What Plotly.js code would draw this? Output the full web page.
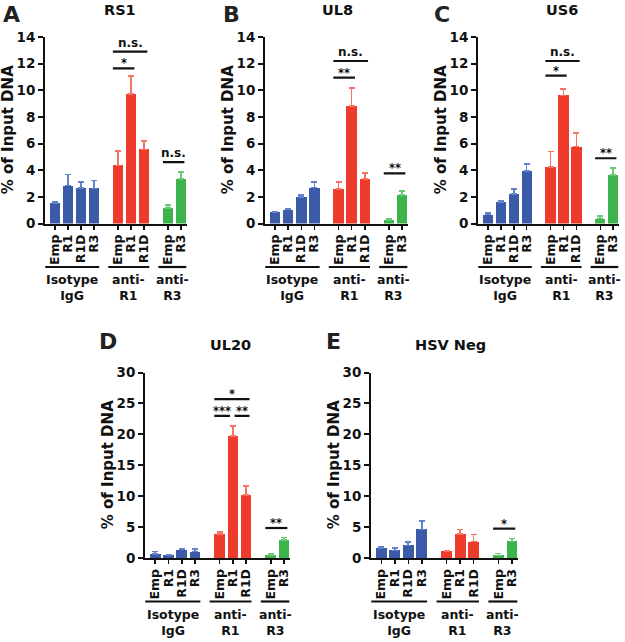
<!DOCTYPE html>
<html><head><meta charset="utf-8">
<script src="https://cdn.plot.ly/plotly-3.0.1.min.js"></script>
<style>html,body{margin:0;padding:0;background:#fff}</style>
</head><body><div id="chart" style="width:625px;height:642px"></div>
<script>
// ---------- data ----------
const panelLetters = ['A','B','C','D','E'];
const panelTitles = ['RS1','UL8','US6','UL20','HSV Neg'];
const groupLabels = ['Isotype<br>IgG','anti-<br>R1','anti-<br>R3'];
const groupConditions = [['Emp','R1','R1D','R3'],['Emp','R1','R1D'],['Emp','R3']];
const yMax = [14,14,14,30,30];
const yStep = [2,2,2,5,5];

// order: Isotype(Emp,R1,R1D,R3), anti-R1(Emp,R1,R1D), anti-R3(Emp,R3)
const valuesA = [1.55, 2.85, 2.68, 2.63, 4.36, 9.70, 5.56, 1.18, 3.36];
const errorsA = [0.08, 0.83, 0.42, 0.60, 1.07, 1.37, 0.63, 0.20, 0.50];
const valuesB = [0.85, 1.05, 2.00, 2.70, 2.60, 8.80, 3.35, 0.25, 2.15];
const errorsB = [0.05, 0.07, 0.15, 0.42, 0.50, 1.35, 0.43, 0.07, 0.27];
const valuesC = [0.67, 1.62, 2.20, 3.92, 4.23, 9.62, 5.78, 0.37, 3.66];
const errorsC = [0.13, 0.12, 0.40, 0.56, 1.17, 0.46, 1.00, 0.21, 0.49];
const valuesD = [0.60, 0.45, 1.35, 1.05, 3.90, 19.76, 10.23, 0.45, 2.90];
const errorsD = [0.45, 0.10, 0.20, 0.45, 0.35, 1.54, 1.37, 0.25, 0.40];
const valuesE = [1.62, 1.24, 2.05, 4.64, 1.08, 3.89, 2.64, 0.43, 2.70];
const errorsE = [0.13, 0.38, 0.54, 1.35, 0.16, 0.70, 1.14, 0.27, 0.43];

// significance: [fromBar, toBar, level, label]
const sigA = [[4,5,11.65,'*'],[4,6,12.9,'n.s.'],[7,8,4.6,'n.s.']];
const sigB = [[4,5,10.95,'**'],[4,6,12.2,'n.s.'],[7,8,3.77,'**']];
const sigC = [[4,5,11.1,'*'],[4,6,12.2,'n.s.'],[7,8,4.9,'**']];
const sigD = [[4,6,25.7,'*'],[4,5,23.0,'***'],[5,6,23.0,'**'],[7,8,4.85,'**']];
const sigE = [[7,8,4.75,'*']];

// ---------- layout / style ----------
const allValues = [valuesA,valuesB,valuesC,valuesD,valuesE];
const allErrors = [errorsA,errorsB,errorsC,errorsD,errorsE];
const allSig = [sigA,sigB,sigC,sigD,sigE];

const W = 625, H = 642;
const boxes = [
  {x0:45, x1:187, y0:37, y1:223.5},
  {x0:265,x1:408, y0:37, y1:223.5},
  {x0:478,x1:619, y0:37, y1:223.5},
  {x0:145,x1:290, y0:372.5, y1:558},
  {x0:371,x1:518, y0:372.5, y1:558}
];
const titlePos = [[120,10],[337,10],[562,10],[230,345],[450,345]];
const letterPos = [[12,14],[231,14],[442,14],[108,342],[333,342]];
const groupStart = [0, 4.85, 8.7];
const xRange = [-0.77, 10.15];
const barColors = ['#3b5ba9','#ee3b2b','#3cb44b'];
const errColors = ['#6283cc','#f47563','#6cc878'];
const FONT = 'DejaVu Sans, Arial, sans-serif';
const bold = (size, color) => ({family: FONT, size: size, color: color || '#111', weight: 700});
const px = x => x / W;
const py = y => 1 - y / H;

const positions = [];
groupConditions.forEach((conds, g) => conds.forEach((c, i) => positions.push(groupStart[g] + i)));
const tickLabels = [].concat(...groupConditions);

const traces = [];
const layout = {
  width: W, height: H, margin: {l:0, r:0, t:0, b:0},
  paper_bgcolor: '#fff', plot_bgcolor: 'rgba(0,0,0,0)',
  showlegend: false, bargap: 0,
  annotations: [], shapes: []
};

for (let p = 0; p < 5; p++) {
  const sfx = p === 0 ? '' : String(p + 1);
  const xa = 'x' + sfx, ya = 'y' + sfx;
  const b = boxes[p];
  let idx = 0;
  groupConditions.forEach((conds, g) => {
    const n = conds.length;
    const xs = positions.slice(idx, idx + n);
    const ys = allValues[p].slice(idx, idx + n);
    const es = allErrors[p].slice(idx, idx + n);
    traces.push({
      type: 'bar', x: xs, y: ys, xaxis: xa, yaxis: ya, width: 0.8,
      marker: {color: barColors[g], line: {width: 0}},
      error_y: {type: 'data', symmetric: false, array: es, arrayminus: es.map(() => 0),
                color: errColors[g], thickness: 1.6, width: 3},
      hoverinfo: 'skip', showlegend: false
    });
    // group underline + label
    const gx0 = xs[0] - 0.75, gx1 = xs[n - 1] + 0.4;
    const lineY = b.y1 + 43.5;
    layout.shapes.push({type: 'line', xref: xa, yref: 'paper', x0: gx0, x1: gx1,
      y0: py(lineY), y1: py(lineY), line: {color: '#111', width: 2.2}});
    layout.annotations.push({xref: xa, yref: 'paper', x: (gx0 + gx1) / 2, y: py(lineY + 3),
      xanchor: 'center', yanchor: 'top', text: groupLabels[g], showarrow: false,
      font: bold(12.5), align: 'center'});
    idx += n;
  });

  layout['xaxis' + sfx] = {
    domain: [px(b.x0), px(b.x1)], range: xRange, anchor: ya,
    showline: true, linewidth: 2, linecolor: '#111', mirror: false,
    showgrid: false, zeroline: false,
    ticks: 'outside', ticklen: 4, tickwidth: 1.5, tickcolor: '#111',
    tickmode: 'array', tickvals: positions, ticktext: tickLabels,
    tickangle: -90, tickfont: bold(12.5), fixedrange: true
  };
  layout['yaxis' + sfx] = {
    domain: [py(b.y1), py(b.y0)], range: [0, yMax[p]], anchor: xa,
    dtick: yStep[p], tick0: 0,
    showline: true, linewidth: 2, linecolor: '#111',
    showgrid: false, zeroline: false,
    ticks: 'outside', ticklen: 5, tickwidth: 2, tickcolor: '#111',
    tickfont: bold(13.5), fixedrange: true
  };

  // y title
  layout.annotations.push({xref: 'paper', yref: 'paper', x: px(b.x0 - 37), y: py((b.y0 + b.y1) / 2),
    xanchor: 'center', yanchor: 'middle', textangle: -90, text: '% of Input DNA',
    showarrow: false, font: bold(15)});
  // panel title
  layout.annotations.push({xref: 'paper', yref: 'paper', x: px(titlePos[p][0]), y: py(titlePos[p][1]),
    xanchor: 'center', yanchor: 'middle', text: panelTitles[p], showarrow: false, font: bold(14.5)});
  // panel letter
  layout.annotations.push({xref: 'paper', yref: 'paper', x: px(letterPos[p][0]), y: py(letterPos[p][1]),
    xanchor: 'center', yanchor: 'middle', text: panelLetters[p], showarrow: false, font: bold(22, '#222')});

  // significance bars
  const sig = allSig[p];
  sig.forEach(s => {
    const [f, t, lvl, lab] = s;
    // shared-endpoint detection for split lines on the same level
    const endsShared = sig.some(o => o !== s && o[2] === lvl && o[0] === t);
    const startsShared = sig.some(o => o !== s && o[2] === lvl && o[1] === f);
    const x0 = startsShared ? positions[f] + 0.12 : positions[f] - 0.4;
    const x1 = endsShared ? positions[t] - 0.22 : positions[t] + 0.25;
    layout.shapes.push({type: 'line', xref: xa, yref: ya, x0: x0, x1: x1, y0: lvl, y1: lvl,
      line: {color: '#111', width: 2.2}});
    const isStar = lab.indexOf('*') >= 0;
    layout.annotations.push({xref: xa, yref: ya, x: (x0 + x1) / 2, y: lvl,
      xanchor: 'center', yanchor: 'bottom', yshift: isStar ? -4 : 0,
      text: lab, showarrow: false, font: bold(isStar ? 11.5 : 12)});
  });
}

Plotly.newPlot('chart', traces, layout, {staticPlot: true, displayModeBar: false});
</script>
</body></html>
